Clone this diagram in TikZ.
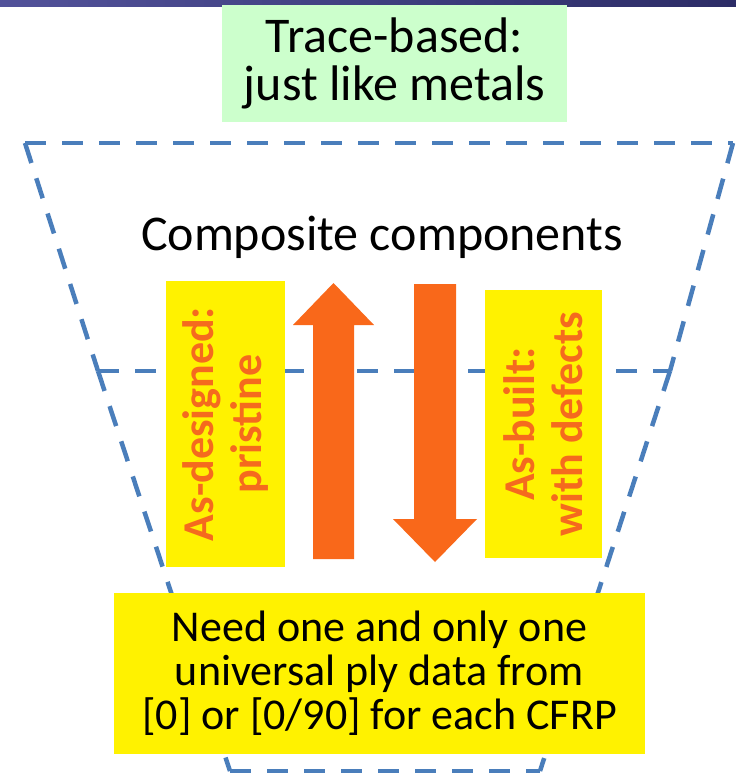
\documentclass[tikz,border=0pt]{standalone}
\usepackage{fontspec}
\setmainfont{Carlito}

\definecolor{barLeft}{HTML}{52529A}
\definecolor{barRight}{HTML}{2C2C66}
\definecolor{paleGreen}{HTML}{CCFFCC}
\definecolor{funnelBlue}{HTML}{4A7EBB}
\definecolor{hotOrange}{HTML}{F9681A}
\definecolor{labelOrange}{HTML}{F56A1E}

\tikzset{
  funnel/.style={draw=funnelBlue, line width=4.5pt, dash pattern=on 21pt off 16pt},
  notebox/.style={fill=#1, inner sep=0pt, align=center},
  sidebox/.style={fill=yellow, inner sep=0pt, align=center, rotate=90,
    text=labelOrange, font=\bfseries\fontsize{44}{48}\selectfont},
  blockarrow/.style={fill=hotOrange, draw=none},
}

\begin{document}
\begin{tikzpicture}[x=1pt,y=-1pt]
\useasboundingbox (0,0) rectangle (736,780);
\fill[white] (0,0) rectangle (736,780);

% title bar strip
\shade[left color=barLeft, right color=barRight] (0,0) rectangle (736,6);

% funnel outline: upper and lower trapezoids sharing the middle edge
\coordinate (tl) at (25,143);
\coordinate (tr) at (733,143);
\coordinate (ml) at (98,371);
\coordinate (mr) at (670,371);
\coordinate (bl) at (230,771);
\coordinate (br) at (540,771);

\draw[funnel] (tl) -- (tr);
\draw[funnel] (tr) -- (mr);
\draw[funnel] (tl) -- (ml);
\draw[funnel] (ml) -- (mr);
\draw[funnel] (ml) -- (bl);
\draw[funnel] (mr) -- (br);
\draw[funnel] (bl) -- (br);

% heading note
\node[notebox=paleGreen, minimum width=345pt, minimum height=117pt,
      font=\fontsize{50}{48}\selectfont] (trace) at (394.5,63.5)
      {Trace-based:\\just like metals};

\node[anchor=base, font=\fontsize{50}{60}\selectfont] (comp) at (382,250)
      {Composite components};

% side labels
\node[sidebox, minimum width=286pt, minimum height=119pt] (designed) at (225.5,424)
      {As-designed:\\pristine};
\node[sidebox, minimum width=268pt, minimum height=117pt] (built) at (543.5,424)
      {As-built:\\with defects};

% block arrows
\fill[blockarrow] (313,559) -- (313,325) -- (293,325) -- (333.5,283)
      -- (374,325) -- (354,325) -- (354,559) -- cycle;
\fill[blockarrow] (414,284) -- (456,284) -- (456,519) -- (477,519)
      -- (435,562) -- (393,519) -- (414,519) -- cycle;

% bottom note
\node[notebox=yellow, minimum width=531pt, minimum height=161pt,
      font=\fontsize{44}{44}\selectfont] (need) at (379.5,673.5)
      {Need one and only one\\universal ply data from\\{}[0] or [0/90] for each CFRP};
\end{tikzpicture}
\end{document}
